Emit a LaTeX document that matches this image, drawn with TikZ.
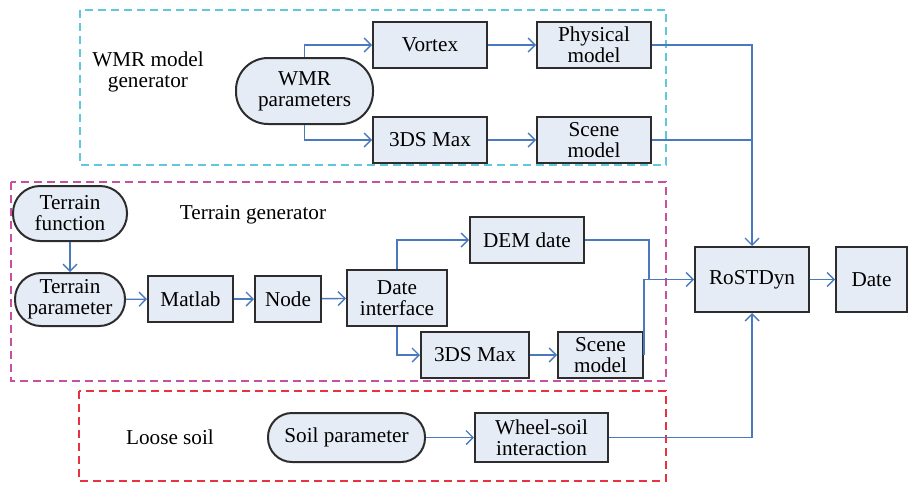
\documentclass[tikz,border=0pt]{standalone}
\usepackage{fontspec}
\setmainfont{Liberation Serif}
\usetikzlibrary{arrows.meta}
\definecolor{boxfill}{RGB}{230,236,245}
\definecolor{boxline}{RGB}{45,45,45}
\definecolor{flow}{RGB}{74,122,190}
\definecolor{wmrcyan}{RGB}{95,200,222}
\definecolor{terrmag}{RGB}{200,80,160}
\definecolor{soilred}{RGB}{232,50,64}
\tikzstyle{block} = [rectangle, draw=boxline, line width=1pt, fill=boxfill, inner sep=0pt, align=center, font=\fontsize{10.6}{10.5}\selectfont]
\tikzstyle{arrow} = [draw=flow, line width=0.7pt, -{Straight Barb[length=3.5pt,width=7pt]}]
\tikzstyle{line} = [draw=flow, line width=0.7pt]
\tikzstyle{group} = [line width=0.8pt, dash pattern=on 4pt off 2.5pt]
\tikzstyle{title} = [align=center, font=\fontsize{10.6}{10.5}\selectfont]

\begin{document}
\begin{tikzpicture}[x=0.5pt,y=-0.5pt]
	\useasboundingbox (0,0) rectangle (908,483);
	% dashed groups
	\draw[group,wmrcyan] (80,10) rectangle (666,165);
	\draw[group,terrmag] (11,182) rectangle (666,381);
	\draw[group,soilred] (79,391) rectangle (666,481);
	\node[title] (wmrlabel) at (148,72) {WMR model\\generator};
	\node[title] (terrlabel) at (253,215) {Terrain generator};
	\node[title] (soillabel) at (170,437) {Loose soil};
	% WMR model generator
	\node[block, rounded corners=16pt, minimum width=68.5pt, minimum height=33pt] (wmrpar) at (304.5,91) {WMR\\parameters};
	\node[block, minimum width=57pt, minimum height=23pt] (vortex) at (430,45) {Vortex};
	\node[block, minimum width=57pt, minimum height=23pt] (phys) at (594,45) {Physical\\model};
	\node[block, minimum width=57pt, minimum height=23pt] (maxa) at (430,140) {3DS Max};
	\node[block, minimum width=57pt, minimum height=23pt] (scenea) at (594,140) {Scene\\model};
	% Terrain generator
	\node[block, rounded corners=13.5pt, minimum width=57pt, minimum height=27.5pt] (tfun) at (70,213.5) {Terrain\\function};
	\node[block, rounded corners=13pt, minimum width=55pt, minimum height=26.5pt] (tpar) at (70,299.5) {Terrain\\parameter};
	\node[block, minimum width=42.5pt, minimum height=23pt] (matlab) at (190.5,299) {Matlab};
	\node[block, minimum width=33pt, minimum height=23pt] (nodebox) at (288,299) {Node};
	\node[block, minimum width=50pt, minimum height=28pt] (dateif) at (397,298) {Date\\interface};
	\node[block, minimum width=57pt, minimum height=23pt] (dem) at (527,240) {DEM date};
	\node[block, minimum width=54pt, minimum height=23pt] (maxb) at (475,355) {3DS Max};
	\node[block, minimum width=42.5pt, minimum height=23pt] (sceneb) at (600.5,355) {Scene\\model};
	% loose soil
	\node[block, rounded corners=12pt, minimum width=78.5pt, minimum height=24.5pt] (soil) at (346.5,437.5) {Soil parameter};
	\node[block, minimum width=66.5pt, minimum height=24.5pt] (wheel) at (541.5,437.5) {Wheel-soil\\interaction};
	% simulation
	\node[block, minimum width=57pt, minimum height=32.5pt] (rost) at (752,279.5) {RoSTDyn};
	\node[block, minimum width=35.5pt, minimum height=32.5pt] (date) at (871.5,279.5) {Date};
	\coordinate (demdrop) at (649,279.5);
	% connectors
	\draw[arrow] (wmrpar.north) |- (vortex.west);
	\draw[arrow] (wmrpar.south) |- (maxa.west);
	\draw[arrow] (vortex) -- (phys);
	\draw[arrow] (maxa) -- (scenea);
	\draw[arrow] (phys.east) -| (rost.north);
	\draw[line] (scenea.east) -- (scenea.east -| rost.north);
	\draw[arrow] (tfun) -- (tpar);
	\draw[arrow] (tpar) -- (matlab);
	\draw[arrow] (matlab) -- (nodebox);
	\draw[arrow] (nodebox) -- (dateif);
	\draw[arrow] (dateif.north) |- (dem.west);
	\draw[arrow] (dateif.south) |- (maxb.west);
	\draw[arrow] (maxb) -- (sceneb);
	\draw[line] (dem.east) -| (demdrop);
	\draw[arrow] (sceneb.east) |- (rost.west);
	\draw[arrow] (soil) -- (wheel);
	\draw[arrow] (wheel.east) -| (rost.south);
	\draw[arrow] (rost) -- (date);
\end{tikzpicture}
\end{document}
